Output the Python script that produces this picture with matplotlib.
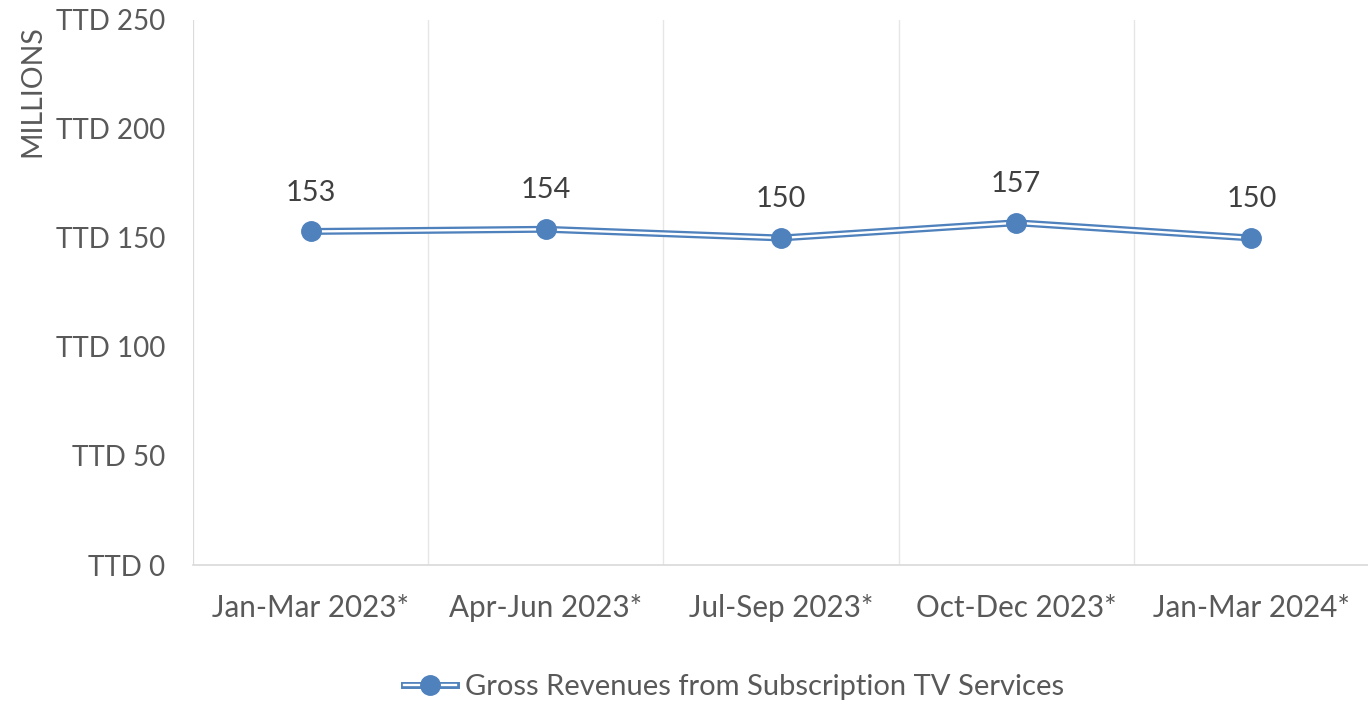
import matplotlib
matplotlib.use("Agg")
import matplotlib.pyplot as plt
from matplotlib.lines import Line2D

categories = ["Jan-Mar 2023*", "Apr-Jun 2023*", "Jul-Sep 2023*", "Oct-Dec 2023*", "Jan-Mar 2024*"]
revenues = [153, 154, 150, 157, 150]
yticks = [0, 50, 100, 150, 200, 250]
ytick_labels = ["TTD 0", "TTD 50", "TTD 100", "TTD 150", "TTD 200", "TTD 250"]
series_name = "Gross Revenues from Subscription TV Services"

plt.rcParams['font.family'] = ['Lato', 'DejaVu Sans']

BLUE = "#4F81BD"
TXT = "#595959"
GRID = "#E6E6E6"
AXIS = "#D9D9D9"

fig = plt.figure(figsize=(13.68, 7.02), dpi=100)
ax = fig.add_axes([193/1368, 1 - 565/702, 1176/1368, 545/702])

x = list(range(len(categories)))
ax.plot(x, revenues, color=BLUE, lw=5.0, solid_joinstyle='round', zorder=3)
ax.plot(x, revenues, color="white", lw=1.7, solid_joinstyle='round', zorder=4)
ax.plot(x, revenues, ls='none', marker='o', ms=14, color=BLUE, zorder=5)

for xi, v in zip(x, revenues):
    ax.annotate(f"{v}", (xi, v), xytext=(0, 28), textcoords='offset points',
                ha='center', va='center', fontsize=20.8, color="#404040")

ax.set_xlim(-0.5, len(categories) - 0.5)
ax.set_ylim(0, 250)
ax.set_yticks(yticks)
ax.set_yticklabels(ytick_labels)
ax.set_xticks(x)
ax.set_xticklabels(categories)
ax.tick_params(axis='both', length=0, colors=TXT)
ax.tick_params(axis='y', pad=20, labelsize=20)
ax.tick_params(axis='x', pad=21, labelsize=21.3)

# vertical gridlines at category boundaries
ax.set_xticks([i - 0.5 for i in range(len(categories) + 1)], minor=True)
ax.tick_params(axis='x', which='minor', length=0)
ax.grid(True, which='minor', axis='x', color=GRID, lw=1)
ax.grid(False, which='major')
ax.axvline(-0.5, color=AXIS, lw=1.2, zorder=2)

for s in ['top', 'right', 'left']:
    ax.spines[s].set_visible(False)
ax.spines['bottom'].set_color(AXIS)
ax.spines['bottom'].set_linewidth(1.2)

fig.text(32/1368, 1 - 91/702, "MILLIONS", rotation=90, ha='center', va='center',
         fontsize=20.5, color=TXT)

h = (Line2D([], [], color=BLUE, lw=5.0),
     Line2D([], [], color="white", lw=1.7),
     Line2D([], [], ls='none', marker='o', ms=14, color=BLUE))
fig.legend([h], [series_name], loc='center', bbox_to_anchor=(734/1368, 1 - 687/702),
           frameon=False, fontsize=21, labelcolor=TXT, handlelength=1.8,
           handletextpad=0.3)

fig.savefig("out.png", dpi=100, facecolor="white")
